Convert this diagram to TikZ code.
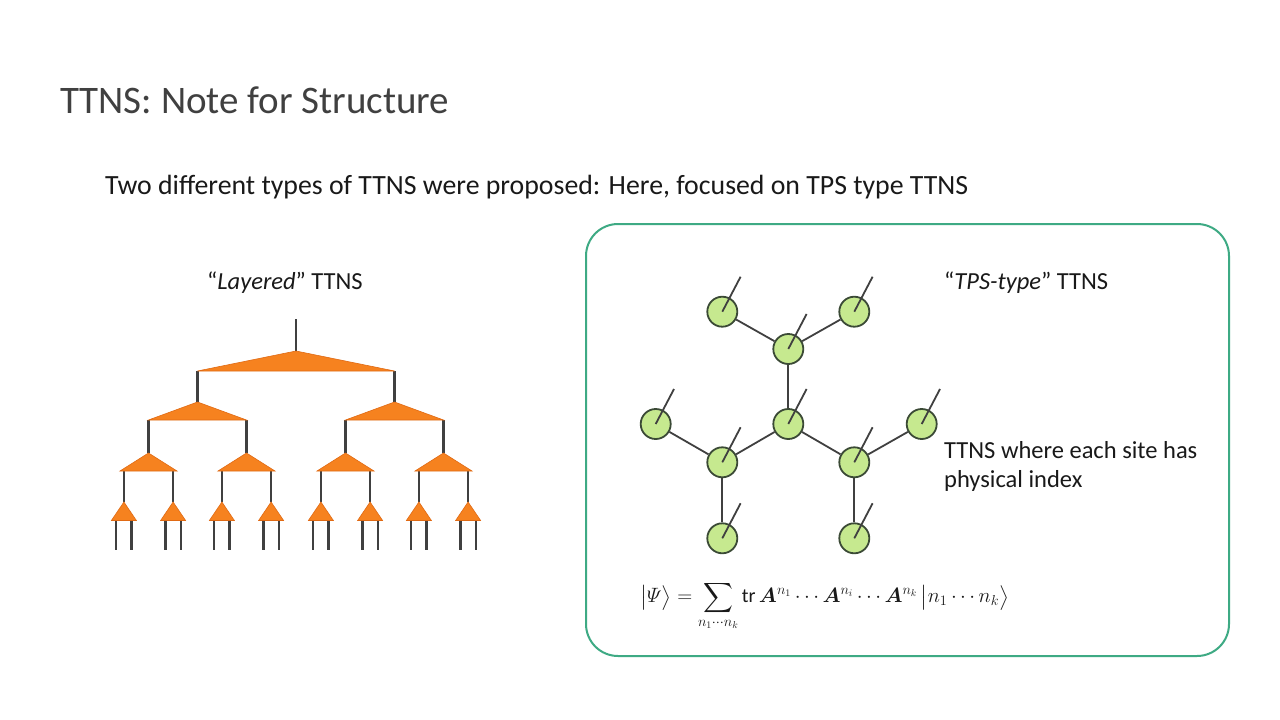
\documentclass[tikz,border=0pt]{standalone}
\usepackage{amsmath}
\usepackage{bm}
\usepackage{fontspec}
\setmainfont{Carlito}
\definecolor{treeline}{HTML}{404040}
\definecolor{orangefill}{HTML}{F6821F}
\definecolor{orangeedge}{HTML}{E06A14}
\definecolor{greenfill}{HTML}{C6E98F}
\definecolor{greenedge}{HTML}{3B4A36}
\definecolor{boxteal}{HTML}{3EAA84}
\definecolor{titlegray}{HTML}{404040}
\tikzset{
  leg/.style={draw=treeline, line width=2.3pt},
  tri/.style={fill=orangefill, draw=orangeedge, line width=0.6pt},
  site/.style={circle, minimum size=30pt, inner sep=0pt, fill=greenfill, draw=greenedge, line width=1.8pt},
  bond/.style={draw=treeline, line width=1.8pt},
  phys/.style={draw=treeline, line width=1.8pt},
  txt/.style={inner sep=0pt, text=black!90}
}
\begin{document}
\begin{tikzpicture}[x=1pt,y=-1pt]
\useasboundingbox (0,0) rectangle (1280,720);
\fill[white] (0,0) rectangle (1280,720);

% title and subtitle
\node[txt, anchor=base west, text=titlegray, font=\fontsize{39}{46}\selectfont] (title) at (60,113) {TTNS: Note for Structure};
\node[txt, anchor=base west, font=\fontsize{27.8}{32}\selectfont] (sub) at (105,194) {Two different types of TTNS were proposed: Here, focused on TPS type TTNS};

% green box
\draw[boxteal, line width=2pt, rounded corners=32pt] (586,224) rectangle (1229,656);

% layered TTNS
\node[txt, anchor=base west, font=\fontsize{24.5}{29}\selectfont] (llab) at (207,289) {``\textit{Layered}'' TTNS};

% level 1
\coordinate (r0) at (296,319);
\coordinate (a1) at (296,351);
\coordinate (b1l) at (197.5,371);
\coordinate (b1r) at (394.5,371);
\draw[leg] (r0) -- (a1);
% level 2
\foreach \i/\cx in {1/197.5,2/394.5}{
  \coordinate (a2-\i) at (\cx,402);
  \coordinate (b2l-\i) at (\cx-49,420);
  \coordinate (b2r-\i) at (\cx+49,420);
}
\draw[leg] (b1l) -- (a2-1);
\draw[leg] (b1r) -- (a2-2);
% level 3
\foreach \i/\cx in {1/148.5,2/246.5,3/345.5,4/443.5}{
  \coordinate (a3-\i) at (\cx,453);
  \coordinate (b3l-\i) at (\cx-28.5,471);
  \coordinate (b3r-\i) at (\cx+28.5,471);
  \coordinate (l3l-\i) at (\cx-24.6,471);
  \coordinate (l3r-\i) at (\cx+24.6,471);
}
\draw[leg] (b2l-1) -- (a3-1);
\draw[leg] (b2r-1) -- (a3-2);
\draw[leg] (b2l-2) -- (a3-3);
\draw[leg] (b2r-2) -- (a3-4);
% level 4
\foreach \i/\cx in {1/123.9,2/173.1,3/221.9,4/271.1,5/320.9,6/370.1,7/418.9,8/468.1}{
  \coordinate (a4-\i) at (\cx,502);
  \coordinate (b4l-\i) at (\cx-12.5,520.5);
  \coordinate (b4r-\i) at (\cx+12.5,520.5);
  \coordinate (p4l-\i) at (\cx-7.7,520.5);
  \coordinate (p4r-\i) at (\cx+7.7,520.5);
  \coordinate (e4l-\i) at (\cx-7.7,549.5);
  \coordinate (e4r-\i) at (\cx+7.7,549.5);
  \draw[leg] (p4l-\i) -- (e4l-\i);
  \draw[leg] (p4r-\i) -- (e4r-\i);
}
\foreach \i/\j/\k in {1/1/2,2/3/4,3/5/6,4/7/8}{
  \draw[leg] (l3l-\i) -- (a4-\j);
  \draw[leg] (l3r-\i) -- (a4-\k);
}
% triangles on top
\draw[tri] (a1) -- (b1r) -- (b1l) -- cycle;
\foreach \i in {1,2}{\draw[tri] (a2-\i) -- (b2r-\i) -- (b2l-\i) -- cycle;}
\foreach \i in {1,...,4}{\draw[tri] (a3-\i) -- (b3r-\i) -- (b3l-\i) -- cycle;}
\foreach \i in {1,...,8}{\draw[tri] (a4-\i) -- (b4r-\i) -- (b4l-\i) -- cycle;}

% TPS-type TTNS
\node[txt, anchor=base west, font=\fontsize{24.5}{29}\selectfont] (tlab) at (944,289) {``\textit{TPS-type}'' TTNS};
\node[txt, anchor=base west, font=\fontsize{24.5}{29}\selectfont, align=left] (tdesc) at (944,487) {TTNS where each site has\\physical index};

\node[site] (tl) at (722.3,311.7) {};
\node[site] (tr) at (854.3,311.7) {};
\node[site] (tm) at (788.3,349) {};
\node[site] (c)  at (788.3,424) {};
\node[site] (l)  at (655.7,424) {};
\node[site] (r)  at (921.7,424) {};
\node[site] (ll) at (722.3,462.3) {};
\node[site] (lr) at (854.3,462.3) {};
\node[site] (bl) at (722.3,538.3) {};
\node[site] (br) at (854.3,538.3) {};

\draw[bond] (tl) -- (tm);
\draw[bond] (tr) -- (tm);
\draw[bond] (tm) -- (c);
\draw[bond] (c) -- (ll);
\draw[bond] (c) -- (lr);
\draw[bond] (l) -- (ll);
\draw[bond] (r) -- (lr);
\draw[bond] (ll) -- (bl);
\draw[bond] (lr) -- (br);

\foreach \n in {tl,tr,tm,c,l,r,ll,lr,bl,br}{
  \coordinate (\n-end) at ([shift={(18.3,-35)}]\n.center);
  \draw[phys] (\n.center) -- (\n-end);
}

% formula
\node[txt, anchor=west, font=\fontsize{20}{24}\selectfont] (formula) at (640,606)
  {$\displaystyle \bigl|\varPsi\bigr\rangle = \sum_{n_1\cdots n_k} \mathrm{tr}\,\bm{A}^{n_1}\cdots\bm{A}^{n_i}\cdots\bm{A}^{n_k}\,\bigl|n_1\cdots n_k\bigr\rangle$};
\end{tikzpicture}
\end{document}
